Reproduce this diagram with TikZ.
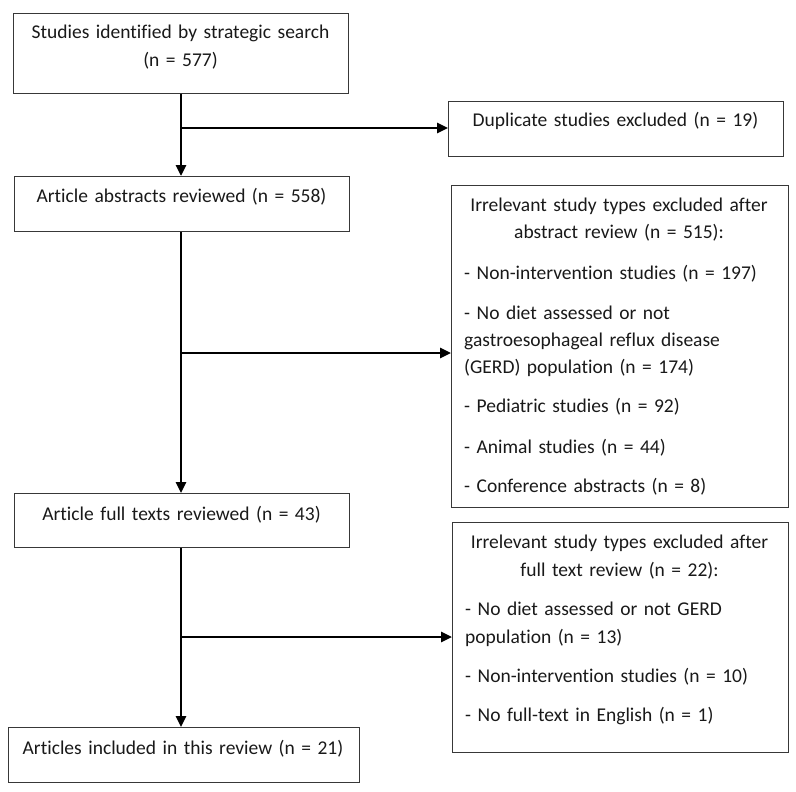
\documentclass[tikz,border=0pt]{standalone}
\usepackage{fontspec}
\setmainfont{Carlito}[Ligatures={NoCommon}]
\usetikzlibrary{arrows.meta}
\begin{document}
\begin{tikzpicture}[x=1pt,y=-1pt,
  box/.style={draw=black!78, line width=0.9pt, inner sep=0pt, anchor=north west},
  txt/.style={font=\fontsize{19.5}{27}\selectfont, inner sep=0pt, text=black!90},
  ctxt/.style={txt, align=center, anchor=base},
  ltxt/.style={txt, align=left, anchor=base west},
  conn/.style={line width=2.6pt},
  arr/.style={conn, -{Triangle[length=11pt,width=10pt]}}]
\useasboundingbox (0,0) rectangle (796,792);
% boxes
\node[box, minimum width=335pt, minimum height=80pt] (b1) at (13,13) {};
\node[box, minimum width=335pt, minimum height=55pt] (b2) at (448,101) {};
\node[box, minimum width=335pt, minimum height=55pt] (b3) at (14,176) {};
\node[box, minimum width=337pt, minimum height=322pt] (b4) at (451,185) {};
\node[box, minimum width=335pt, minimum height=54pt] (b5) at (14,493) {};
\node[box, minimum width=336pt, minimum height=230pt] (b6) at (452,522) {};
\node[box, minimum width=351pt, minimum height=55pt] (b7) at (8,727) {};
% texts
\node[ctxt, text width=335pt] (t1) at (180.5,39) {Studies identified by strategic search\\[1pt](n = 577)};
\node[ctxt, text width=335pt] (t2) at (615.5,127) {Duplicate studies excluded (n = 19)};
\node[ctxt, text width=335pt] (t3) at (181.5,202) {Article abstracts reviewed (n = 558)};
\node[ctxt, text width=337pt] (t4) at (619,211) {Irrelevant study types excluded after\\abstract review (n = 515):};
\node[ltxt, text width=320pt] (l4) at (464,279) {- Non-intervention studies (n = 197)\\[13pt]
- No diet assessed or not\\gastroesophageal reflux disease\\(GERD) population (n = 174)\\[13pt]
- Pediatric studies (n = 92)\\[13pt]
- Animal studies (n = 44)\\[13pt]
- Conference abstracts (n = 8)};
\node[ctxt, text width=335pt] (t5) at (181.5,520) {Article full texts reviewed (n = 43)};
\node[ctxt, text width=336pt] (t6) at (619.5,548) {Irrelevant study types excluded after\\[1pt]full text review (n = 22):};
\node[ltxt, text width=320pt] (l6) at (465,615) {- No diet assessed or not GERD\\[1pt]population (n = 13)\\[12pt]
- Non-intervention studies (n = 10)\\[12pt]
- No full-text in English (n = 1)};
\node[ctxt, text width=351pt] (t7) at (183,754) {Articles included in this review (n = 21)};
% connectors
\coordinate (j1) at (181,128);
\coordinate (j2) at (181,353);
\coordinate (j3) at (181,637);
\draw[arr] (b1.south -| j1) -- (b3.north -| j1);
\draw[arr] (j1) -- (j1 -| b2.west);
\draw[arr] (b3.south -| j2) -- (b5.north -| j2);
\draw[arr] (j2) -- (j2 -| b4.west);
\draw[arr] (b5.south -| j3) -- (b7.north -| j3);
\draw[arr] (j3) -- (j3 -| b6.west);
\end{tikzpicture}
\end{document}
